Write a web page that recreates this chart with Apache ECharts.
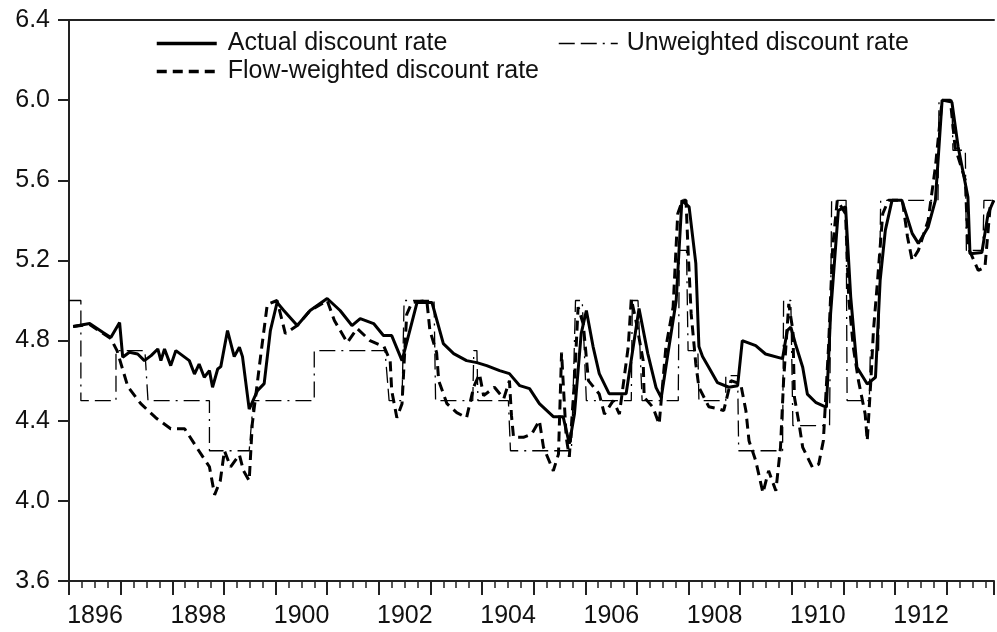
<!DOCTYPE html>
<html>
<head>
<meta charset="utf-8">
<script src="https://cdn.jsdelivr.net/npm/echarts@6/dist/echarts.min.js"></script>
<style>
html, body { margin: 0; padding: 0; background: #fff; }
#chart { width: 997px; height: 632px; }
</style>
</head>
<body>
<div id="chart"></div>
<script>
// [year, rate] pairs
const actualRate = [
  [1896.08,4.87],[1896.40,4.885],[1896.66,4.84],[1896.81,4.815],[1896.98,4.89],
  [1897.04,4.717],[1897.17,4.742],[1897.33,4.733],[1897.46,4.70],[1897.59,4.725],
  [1897.72,4.758],[1897.78,4.70],[1897.85,4.758],[1897.97,4.675],[1898.07,4.75],
  [1898.20,4.725],[1898.33,4.70],[1898.43,4.633],[1898.52,4.683],[1898.62,4.617],
  [1898.72,4.65],[1898.78,4.567],[1898.88,4.658],[1898.94,4.67],[1899.07,4.85],
  [1899.20,4.72],[1899.30,4.767],[1899.36,4.72],[1899.49,4.458],[1899.65,4.55],
  [1899.78,4.585],[1899.90,4.85],[1900.03,4.99],[1900.16,4.95],[1900.42,4.875],
  [1900.67,4.95],[1901.00,5.01],[1901.25,4.95],[1901.48,4.875],[1901.64,4.91],
  [1901.90,4.885],[1902.09,4.825],[1902.25,4.825],[1902.45,4.70],[1902.74,4.99],
  [1903.03,4.99],[1903.25,4.785],[1903.45,4.735],[1903.70,4.70],[1903.90,4.69],
  [1904.09,4.675],[1904.34,4.65],[1904.53,4.635],[1904.73,4.575],[1904.92,4.56],
  [1905.11,4.485],[1905.38,4.42],[1905.57,4.42],[1905.69,4.285],[1905.79,4.435],
  [1905.92,4.835],[1906.02,4.95],[1906.15,4.77],[1906.27,4.635],[1906.46,4.535],
  [1906.79,4.535],[1907.04,4.96],[1907.21,4.735],[1907.37,4.565],[1907.47,4.515],
  [1907.60,4.735],[1907.76,5.0],[1907.87,5.5],[1908.01,5.467],[1908.14,5.185],
  [1908.20,4.77],[1908.27,4.72],[1908.39,4.667],[1908.56,4.59],[1908.78,4.567],
  [1908.95,4.575],[1909.04,4.80],[1909.30,4.775],[1909.49,4.733],[1909.82,4.71],
  [1909.91,4.85],[1909.98,4.867],[1910.07,4.783],[1910.21,4.667],[1910.30,4.533],
  [1910.46,4.492],[1910.67,4.467],[1910.75,4.933],[1910.90,5.45],[1911.04,5.467],
  [1911.14,5.017],[1911.26,4.667],[1911.46,4.583],[1911.62,4.617],[1911.71,5.10],
  [1911.81,5.35],[1911.94,5.50],[1912.13,5.50],[1912.33,5.335],[1912.45,5.285],
  [1912.64,5.367],[1912.78,5.5],[1912.91,6.0],[1913.10,5.99],[1913.22,5.767],
  [1913.41,5.517],[1913.45,5.233],[1913.68,5.24],[1913.80,5.433],[1913.91,5.5]
];

const flowWeighted = [
  [1896.08,4.87],[1896.40,4.88],[1896.81,4.81],[1896.93,4.75],[1897.14,4.57],
  [1897.39,4.485],[1897.68,4.415],[1897.97,4.36],[1898.24,4.36],[1898.49,4.26],
  [1898.72,4.17],[1898.82,4.03],[1898.93,4.10],[1899.01,4.25],[1899.13,4.17],
  [1899.30,4.23],[1899.38,4.15],[1899.49,4.10],[1899.55,4.385],[1899.71,4.72],
  [1899.84,4.98],[1900.03,5.0],[1900.19,4.835],[1900.42,4.875],[1900.67,4.95],
  [1901.00,5.0],[1901.14,4.90],[1901.39,4.79],[1901.58,4.86],[1901.83,4.80],
  [1902.10,4.77],[1902.22,4.70],[1902.25,4.55],[1902.35,4.415],[1902.45,4.485],
  [1902.49,4.685],[1902.54,4.93],[1902.64,4.99],[1902.93,5.0],[1902.99,4.85],
  [1903.12,4.74],[1903.16,4.60],[1903.32,4.485],[1903.51,4.44],[1903.70,4.415],
  [1903.84,4.57],[1903.95,4.633],[1904.03,4.525],[1904.24,4.567],[1904.42,4.51],
  [1904.53,4.60],[1904.57,4.425],[1904.61,4.317],[1904.80,4.317],[1904.96,4.333],
  [1905.11,4.40],[1905.19,4.267],[1905.38,4.15],[1905.48,4.233],[1905.54,4.74],
  [1905.58,4.55],[1905.63,4.317],[1905.69,4.22],[1905.79,4.6],[1905.86,4.967],
  [1905.96,4.883],[1906.06,4.6],[1906.27,4.533],[1906.37,4.433],[1906.54,4.5],
  [1906.66,4.433],[1906.83,4.767],[1906.89,5.008],[1906.98,4.9],[1907.12,4.70],
  [1907.14,4.517],[1907.31,4.467],[1907.43,4.383],[1907.56,4.767],[1907.70,4.967],
  [1907.79,5.433],[1907.88,5.5],[1907.95,5.5],[1907.99,5.25],[1908.05,4.933],
  [1908.14,4.683],[1908.20,4.567],[1908.39,4.47],[1908.57,4.46],[1908.68,4.45],
  [1908.82,4.60],[1909.01,4.583],[1909.11,4.45],[1909.17,4.30],[1909.30,4.20],
  [1909.44,4.04],[1909.55,4.15],[1909.69,4.05],[1909.78,4.267],[1909.84,4.6],
  [1909.94,4.983],[1910.02,4.85],[1910.05,4.517],[1910.13,4.40],[1910.21,4.267],
  [1910.40,4.167],[1910.52,4.183],[1910.61,4.30],[1910.71,4.767],[1910.79,5.267],
  [1910.88,5.5],[1911.04,5.433],[1911.10,5.017],[1911.19,4.767],[1911.29,4.6],
  [1911.42,4.433],[1911.46,4.30],[1911.53,4.6],[1911.58,4.85],[1911.66,5.1],
  [1911.76,5.433],[1911.87,5.5],[1912.14,5.5],[1912.24,5.317],[1912.33,5.2],
  [1912.45,5.25],[1912.64,5.4],[1912.78,5.667],[1912.91,6.0],[1913.07,6.0],
  [1913.16,5.767],[1913.36,5.6],[1913.41,5.267],[1913.61,5.15],[1913.74,5.167],
  [1913.84,5.467],[1913.91,5.5]
];

const unweighted = [
  [1896.0,5.0],[1896.23,5.0],[1896.23,4.5],[1896.91,4.5],[1896.91,4.75],
  [1897.47,4.75],[1897.53,4.5],[1898.72,4.5],[1898.72,4.25],[1899.49,4.25],
  [1899.57,4.5],[1900.75,4.5],[1900.75,4.75],[1902.12,4.75],[1902.20,4.5],
  [1902.45,4.5],[1902.49,5.0],[1903.07,5.0],[1903.10,4.5],[1903.82,4.5],
  [1903.84,4.75],[1903.90,4.75],[1903.92,4.5],[1904.51,4.5],[1904.55,4.25],
  [1905.73,4.25],[1905.76,4.5],[1905.81,5.0],[1905.94,5.0],[1906.02,4.5],
  [1906.89,4.5],[1906.91,5.0],[1907.02,5.0],[1907.10,4.5],[1907.80,4.5],
  [1907.82,5.25],[1907.96,5.25],[1907.99,4.75],[1908.18,4.75],[1908.20,4.5],
  [1908.72,4.5],[1908.72,4.625],[1908.95,4.625],[1908.97,4.25],[1909.82,4.25],
  [1909.84,5.0],[1909.98,5.0],[1910.02,4.375],[1910.73,4.375],[1910.77,5.5],
  [1911.05,5.5],[1911.07,4.5],[1911.50,4.5],[1911.52,4.75],[1911.68,4.75],
  [1911.72,5.5],[1912.83,5.5],[1912.85,6.0],[1913.10,6.0],[1913.12,5.75],
  [1913.36,5.75],[1913.38,5.25],[1913.70,5.25],[1913.72,5.5],[1913.91,5.5]
];

const yearLabels = [1896, 1898, 1900, 1902, 1904, 1906, 1908, 1910, 1912];
const xMin = 1896;
const xMax = 1913.915;

const font = 'Liberation Sans, Arial, sans-serif';
const ink = '#111';

const chart = echarts.init(document.getElementById('chart'));

chart.setOption({
  animation: false,
  backgroundColor: '#fff',
  grid: { left: 69, right: 0, top: 20, bottom: 51 },
  legend: [
    {
      data: ['Actual discount rate', 'Flow-weighted discount rate'],
      orient: 'vertical',
      left: 155, top: 31, padding: 0,
      itemWidth: 60, itemHeight: 14, itemGap: 3,
      itemStyle: { opacity: 0 },
      lineStyle: { width: 3.5 },
      textStyle: { fontSize: 25, fontFamily: font, color: ink, padding: [0, 0, 0, 6] }
    },
    {
      data: ['Unweighted discount rate'],
      left: 558, top: 31, padding: 0,
      itemWidth: 59, itemHeight: 14,
      itemStyle: { opacity: 0 },
      lineStyle: { width: 1.5 },
      textStyle: { fontSize: 25, fontFamily: font, color: ink, padding: [0, 0, 0, 4] }
    }
  ],
  xAxis: [
    {
      type: 'value', min: xMin, max: xMax, interval: 1,
      axisLine: { onZero: false, lineStyle: { color: '#222', width: 2 } },
      axisTick: { length: 14, lineStyle: { color: '#222', width: 2 } },
      minorTick: { show: true, splitNumber: 4, length: 7, lineStyle: { color: '#222', width: 1.5 } },
      splitLine: { show: false },
      axisLabel: {
        formatter: function (v) {
          return yearLabels.indexOf(Math.round(v)) >= 0 && Math.abs(v - Math.round(v)) < 1e-6 ? String(Math.round(v)) : '';
        },
        fontSize: 25, fontFamily: font, color: ink, margin: 23,
        padding: [0, 0, 0, 52]
      }
    },
    {
      type: 'value', position: 'top', min: xMin, max: xMax,
      axisLine: { onZero: false, lineStyle: { color: '#222', width: 2 } },
      axisTick: { show: false }, axisLabel: { show: false }, splitLine: { show: false }
    }
  ],
  yAxis: {
    type: 'value', min: 3.6, max: 6.4, interval: 0.4,
    axisLine: { show: true, lineStyle: { color: '#222', width: 2 } },
    axisTick: { show: true, length: 11, lineStyle: { color: '#222', width: 2 } },
    splitLine: { show: false },
    axisLabel: {
      formatter: function (v) { return v.toFixed(1); },
      fontSize: 25, fontFamily: font, color: ink, margin: 19
    }
  },
  series: [
    {
      name: 'Unweighted discount rate', type: 'line', data: unweighted,
      symbol: 'none', itemStyle: { color: '#000' },
      lineStyle: { color: '#000', width: 1.3, type: [16, 6, 16, 6, 2, 6] }, z: 2
    },
    {
      name: 'Flow-weighted discount rate', type: 'line', data: flowWeighted,
      symbol: 'none', itemStyle: { color: '#000' },
      lineStyle: { color: '#000', width: 3, type: [10, 6] }, z: 3
    },
    {
      name: 'Actual discount rate', type: 'line', data: actualRate,
      symbol: 'none', itemStyle: { color: '#000' },
      lineStyle: { color: '#000', width: 3 }, z: 4
    }
  ]
});
</script>
</body>
</html>
